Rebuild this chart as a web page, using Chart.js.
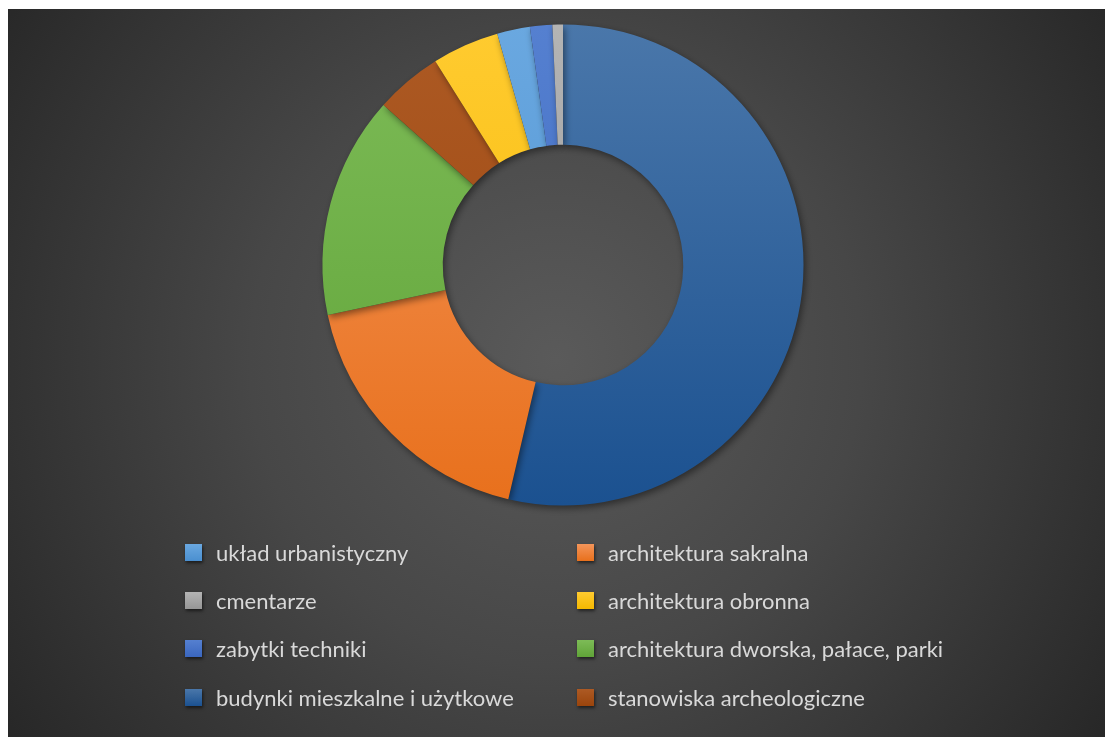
<!DOCTYPE html>
<html lang="pl">
<head>
<meta charset="utf-8">
<script src="https://cdn.jsdelivr.net/npm/chart.js@4.4.1/dist/chart.umd.min.js"></script>
<style>
  body { margin: 0; background: #fff; }
  #wrap { position: relative; width: 1105px; height: 737px; overflow: hidden; }
  #chart { position: absolute; left: 0; top: 0; }
  .legend-item {
    position: absolute; display: flex; align-items: center; height: 26px;
    font-family: Lato, sans-serif; font-size: 22px; color: #d9d9d9; white-space: nowrap;
  }
  .legend-box { width: 17px; height: 17px; margin-right: 14px; box-shadow: 1px 2px 3px rgba(0, 0, 0, 0.55); }
</style>
</head>
<body>
<div id="wrap">
  <canvas id="chart" width="1105" height="737"></canvas>
</div>
<script>
// slices, clockwise from 12 o'clock (share in %)
const labels = [
  'budynki mieszkalne i użytkowe',
  'architektura sakralna',
  'architektura dworska, pałace, parki',
  'stanowiska archeologiczne',
  'architektura obronna',
  'układ urbanistyczny',
  'zabytki techniki',
  'cmentarze'
]
const values = [53.6, 18.0, 14.9, 4.5, 4.5, 2.2, 1.5, 0.7]

// legend, read column by column
const legendColumns = [
  ['układ urbanistyczny', 'cmentarze', 'zabytki techniki', 'budynki mieszkalne i użytkowe'],
  ['architektura sakralna', 'architektura obronna', 'architektura dworska, pałace, parki', 'stanowiska archeologiczne']
]

// top / bottom colour of each slice
const topColors = ['#4a77aa', '#f4955a', '#7dbb57', '#ad5a24', '#ffcb30', '#6aa8e0', '#5580d0', '#b4b4b4']
const bottomColors = ['#1b5190', '#e8701c', '#60a438', '#9a440c', '#f5b800', '#4a8fd0', '#3a66bf', '#969696']

function sliceFill (context) {
  const chart = context.chart
  const i = context.dataIndex
  const area = chart.chartArea
  if (!area) return bottomColors[i]
  const g = chart.ctx.createLinearGradient(0, area.top, 0, area.bottom)
  g.addColorStop(0, topColors[i])
  g.addColorStop(1, bottomColors[i])
  return g
}

const backdrop = {
  id: 'backdrop',
  beforeDraw (chart) {
    const ctx = chart.ctx
    const w = chart.width
    const h = chart.height
    const g = ctx.createRadialGradient(556, 360, 0, 556, 360, 680)
    g.addColorStop(0, '#5a5a5a')
    g.addColorStop(0.45, '#474747')
    g.addColorStop(1, '#262626')
    ctx.save()
    ctx.fillStyle = g
    ctx.fillRect(8, 9, w - 8, h - 9)
    ctx.restore()
  }
}

const sliceShadow = {
  id: 'sliceShadow',
  beforeDatasetsDraw (chart) {
    const ctx = chart.ctx
    ctx.save()
    ctx.shadowColor = 'rgba(0, 0, 0, 0.45)'
    ctx.shadowBlur = 7
    ctx.shadowOffsetX = 2
    ctx.shadowOffsetY = 3
  },
  afterDatasetsDraw (chart) {
    chart.ctx.restore()
  }
}

new Chart(document.getElementById('chart'), {
  type: 'doughnut',
  data: {
    labels,
    datasets: [{
      data: values,
      backgroundColor: sliceFill,
      borderWidth: 0
    }]
  },
  options: {
    responsive: false,
    animation: false,
    cutout: '50%',
    layout: { padding: { left: 322.5, right: 301.5, top: 24.5, bottom: 231.5 } },
    plugins: {
      legend: { display: false },
      tooltip: { enabled: false }
    }
  },
  plugins: [backdrop, sliceShadow]
})

// html legend
const wrap = document.getElementById('wrap')
const colLeft = [185, 577]
const rowMid = [552, 600, 648, 697]
legendColumns.forEach((col, c) => {
  col.forEach((name, r) => {
    const i = labels.indexOf(name)
    const item = document.createElement('div')
    item.className = 'legend-item'
    item.style.left = colLeft[c] + 'px'
    item.style.top = (rowMid[r] - 13) + 'px'
    const box = document.createElement('span')
    box.className = 'legend-box'
    box.style.background = 'linear-gradient(' + topColors[i] + ', ' + bottomColors[i] + ')'
    const text = document.createElement('span')
    text.textContent = name
    item.appendChild(box)
    item.appendChild(text)
    wrap.appendChild(item)
  })
})
</script>
</body>
</html>
